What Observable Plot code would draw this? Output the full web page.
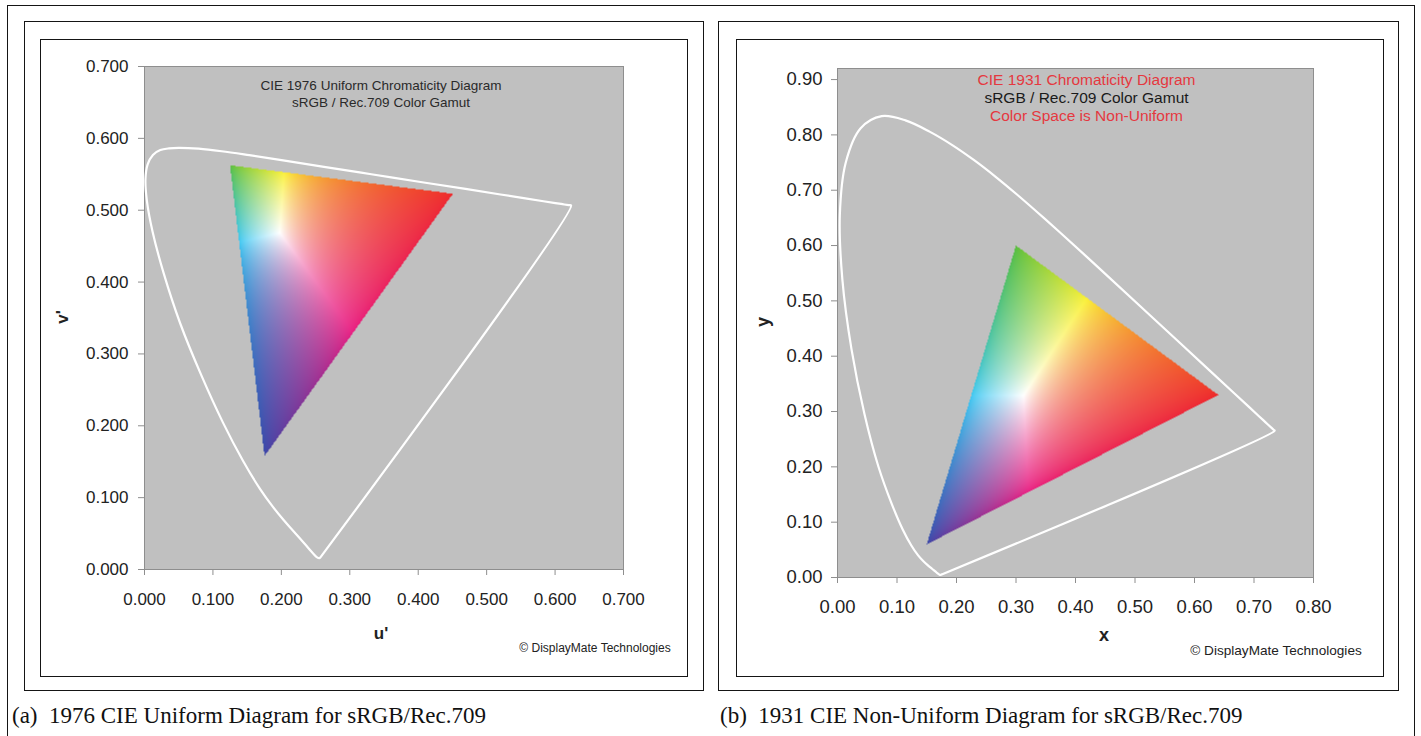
<!DOCTYPE html>
<html><head><meta charset="utf-8">
<script src="https://cdn.jsdelivr.net/npm/d3@7"></script>
<script src="https://cdn.jsdelivr.net/npm/@observablehq/plot@0.6"></script>
<style>
html,body{margin:0;padding:0;background:#fff;}
body{width:1421px;height:736px;overflow:hidden;position:relative;font-family:"Liberation Sans",Arial,sans-serif;color:#222;}
.line{position:absolute;border:1.6px solid #151515;box-sizing:border-box;}
.abs{position:absolute;white-space:nowrap;transform:translate(-50%,-50%);}
.cap{position:absolute;white-space:nowrap;font-family:"Liberation Serif","Times New Roman",serif;font-size:23px;color:#111;transform:translateY(-50%);}
.chart{position:absolute;top:39px;}
</style></head><body>
<div class="line" style="left:7px;top:5px;width:1408px;height:760px;"></div>
<div class="line" style="left:24px;top:21px;width:680px;height:670px;"></div>
<div class="line" style="left:40px;top:39px;width:648px;height:638px;"></div>
<div class="line" style="left:718px;top:21px;width:681px;height:670px;"></div>
<div class="line" style="left:736px;top:39px;width:648px;height:638px;"></div>
<div id="left" class="chart" style="left:40px;"></div>
<div id="right" class="chart" style="left:736px;"></div>
<div class="abs" style="left:63px;top:317px;font-weight:bold;font-size:17px;transform:translate(-50%,-50%) rotate(-90deg);">v'</div>
<div class="abs" style="left:381px;top:634px;font-weight:bold;font-size:17px;">u'</div>
<div class="abs" style="left:763px;top:322px;font-weight:bold;font-size:18px;transform:translate(-50%,-50%) rotate(-90deg);">y</div>
<div class="abs" style="left:1104px;top:635px;font-weight:bold;font-size:18px;">x</div>
<div class="abs" style="left:595px;top:648px;font-size:12px;">© DisplayMate Technologies</div>
<div class="abs" style="left:1276px;top:650px;font-size:13.6px;">© DisplayMate Technologies</div>
<div class="cap" style="left:12px;top:716px;">(a)&nbsp; 1976 CIE Uniform Diagram for sRGB/Rec.709</div>
<div class="cap" style="left:720px;top:716px;">(b)&nbsp; 1931 CIE Non-Uniform Diagram for sRGB/Rec.709</div>
<script>
// ---------- data ----------
// CIE 1931 spectral locus (x, y) read along the white boundary
const locusNm1931 = [380,400,420,430,440,445,450,455,460,465,470,475,480,485,490,495,500,505,510,515,520,525,530,535,540,545,550,555,560,570,580,590,600,610,620,630,640,660,680,700];
const locusX = [0.1741,0.1733,0.1714,0.1689,0.1644,0.1611,0.1566,0.1510,0.1440,0.1355,0.1241,0.1096,0.0913,0.0687,0.0454,0.0235,0.0082,0.0039,0.0139,0.0389,0.0743,0.1142,0.1547,0.1929,0.2296,0.2658,0.3016,0.3373,0.3731,0.4441,0.5125,0.5752,0.6270,0.6658,0.6915,0.7079,0.7190,0.7300,0.7334,0.7347];
const locusY = [0.0050,0.0048,0.0051,0.0069,0.0109,0.0138,0.0177,0.0227,0.0297,0.0399,0.0578,0.0868,0.1327,0.2007,0.2950,0.4127,0.5384,0.6548,0.7502,0.8120,0.8338,0.8262,0.8059,0.7816,0.7543,0.7243,0.6923,0.6589,0.6245,0.5547,0.4866,0.4242,0.3725,0.3340,0.3083,0.2920,0.2809,0.2700,0.2666,0.2653];
// CIE 1976 spectral locus (u', v')
const locusNm1976 = [380,400,420,430,440,445,450,455,460,465,470,475,480,485,490,495,500,505,510,515,520,525,530,540,550,560,570,580,590,600,610,620,630,640,650,660,680,700];
const locusU = [0.2568,0.2557,0.2522,0.2461,0.2347,0.2266,0.2161,0.2033,0.1877,0.1690,0.1441,0.1147,0.0828,0.0521,0.0282,0.0119,0.0035,0.0014,0.0046,0.0123,0.0231,0.0360,0.0501,0.0792,0.1127,0.1531,0.2026,0.2623,0.3315,0.4035,0.4692,0.5203,0.5565,0.5830,0.6005,0.6109,0.6199,0.6234];
const locusV = [0.0166,0.0159,0.0169,0.0226,0.0350,0.0437,0.0549,0.0688,0.0871,0.1119,0.1510,0.2044,0.2708,0.3427,0.4117,0.4698,0.5131,0.5432,0.5638,0.5770,0.5837,0.5861,0.5868,0.5856,0.5821,0.5766,0.5694,0.5604,0.5501,0.5393,0.5296,0.5219,0.5165,0.5125,0.5099,0.5084,0.5070,0.5065];
// sRGB / Rec.709 gamut corners
const primaries = ["Red","Green","Blue"];
const gamutX = [0.640,0.300,0.150];
const gamutY = [0.330,0.600,0.060];
const gamutU = [0.4507,0.1250,0.1754];
const gamutV = [0.5229,0.5625,0.1579];
// axis ticks
const ticksU = [0,0.1,0.2,0.3,0.4,0.5,0.6,0.7];
const ticksV = [0,0.1,0.2,0.3,0.4,0.5,0.6,0.7];
const ticksX = [0,0.1,0.2,0.3,0.4,0.5,0.6,0.7,0.8];
const ticksY = [0,0.1,0.2,0.3,0.4,0.5,0.6,0.7,0.8,0.9];
const titleLeft = ["CIE 1976 Uniform Chromaticity Diagram","sRGB / Rec.709 Color Gamut"];
const titleRight = ["CIE 1931 Chromaticity Diagram","sRGB / Rec.709 Color Gamut","Color Space is Non-Uniform"];
const titleRightColors = ["#e5383f","#1a1a1a","#e5383f"];
// printed look of the gamut: corners of the RGB cube
const cubeK = [0,0,0], cubeR = [238,40,42], cubeG = [84,188,58], cubeB = [56,70,168];
const cubeY = [250,240,50], cubeC = [56,198,242], cubeM = [232,28,128], cubeW = [255,255,255];

// ---------- colour rendering of a chromaticity ----------
const M = [[3.2406,-1.5372,-0.4986],[-0.9689,1.8758,0.0415],[0.0557,-0.2040,1.0570]];
function gam(c){return Math.pow(c,1/1.5);}
function lerp3(a,b,t){return [a[0]+(b[0]-a[0])*t,a[1]+(b[1]-a[1])*t,a[2]+(b[2]-a[2])*t];}
function cube(r,g,b){
  const x00=lerp3(cubeK,cubeR,r), x10=lerp3(cubeG,cubeY,r), x01=lerp3(cubeB,cubeM,r), x11=lerp3(cubeC,cubeW,r);
  const y0=lerp3(x00,x10,g), y1=lerp3(x01,x11,g);
  return lerp3(y0,y1,b);
}
function xyColor(x,y){
  const X=x/y, Y=1, Z=(1-x-y)/y;
  let r=Math.max(0,M[0][0]*X+M[0][1]*Y+M[0][2]*Z);
  let g=Math.max(0,M[1][0]*X+M[1][1]*Y+M[1][2]*Z);
  let b=Math.max(0,M[2][0]*X+M[2][1]*Y+M[2][2]*Z);
  const m=Math.max(r,g,b)||1;
  const c=cube(gam(r/m),gam(g/m),gam(b/m));
  return `rgb(${Math.round(c[0])},${Math.round(c[1])},${Math.round(c[2])})`;
}
function inTri(px,py,xs,ys){
  const [ax,bx,cx]=xs,[ay,by,cy]=ys;
  const d=(by-cy)*(ax-cx)+(cx-bx)*(ay-cy);
  const l1=((by-cy)*(px-cx)+(cx-bx)*(py-cy))/d;
  const l2=((cy-ay)*(px-cx)+(ax-cx)*(py-cy))/d;
  const l3=1-l1-l2;
  return l1>=0&&l2>=0&&l3>=0;
}
function uvToXy(u,v){const d=6*u-16*v+12;return [9*u/d,4*v/d];}

function makeChart({xDomain,yDomain,xTicks,yTicks,fmt,locA,locB,gamA,gamB,toXY,titles,titleColors,titleDy,titleDx,titleSize,margins,font,padX,padY}){
  const locus = locA.map((a,i)=>({a,b:locB[i]}));
  locus.push(locus[0]);
  const fill=(a,b)=>{
    if(!inTri(a,b,gamA,gamB)) return null;
    const [x,y]=toXY(a,b);
    return xyColor(x,y);
  };
  return Plot.plot({
    width:647, height:637,
    marginLeft:margins[0], marginRight:margins[1], marginTop:margins[2], marginBottom:margins[3],
    x:{domain:xDomain}, y:{domain:yDomain},
    color:{type:"identity"},
    style:{fontFamily:'"Liberation Sans",Arial,sans-serif',fontSize:font+"px",background:"transparent",color:"#222"},
    marks:[
      Plot.frame({fill:"#c0c0c0",stroke:"#8e8e8e"}),
      Plot.raster({x1:xDomain[0],x2:xDomain[1],y1:yDomain[0],y2:yDomain[1],fill,imageRendering:"auto"}),
      Plot.line(locus,{x:"a",y:"b",stroke:"white",strokeWidth:2.2,curve:"catmull-rom"}),
      ...titles.map((t,i)=>Plot.text([t],{frameAnchor:"top",text:d=>d,dy:titleDy[i],dx:titleDx,fill:titleColors[i],fontSize:titleSize})),
      Plot.axisX({ticks:xTicks,tickFormat:fmt,tickSize:6,tickPadding:padX,stroke:"#8e8e8e",fill:"#222",fontSize:font,label:null}),
      Plot.axisY({ticks:yTicks,tickFormat:fmt,tickSize:6,tickPadding:padY,stroke:"#8e8e8e",fill:"#222",fontSize:font,label:null})
    ]
  });
}

document.getElementById("left").append(makeChart({
  xDomain:[0,0.7], yDomain:[0,0.7], xTicks:ticksU, yTicks:ticksV, fmt:d3.format(".3f"),
  locA:locusU, locB:locusV, gamA:gamutU, gamB:gamutV, toXY:uvToXy,
  titles:titleLeft, titleColors:["#2a2a2a","#2a2a2a"], titleDy:[14,31], titleDx:-3, titleSize:13.5,
  margins:[104,64,27,107], font:17, padX:17, padY:10
}));
document.getElementById("right").append(makeChart({
  xDomain:[0,0.8], yDomain:[0,0.92], xTicks:ticksX, yTicks:ticksY, fmt:d3.format(".2f"),
  locA:locusX, locB:locusY, gamA:gamutX, gamB:gamutY, toXY:(a,b)=>[a,b],
  titles:titleRight, titleColors:titleRightColors, titleDy:[5,23,41], titleDx:11, titleSize:15.5,
  margins:[101,70,29,99], font:18.5, padX:16, padY:9
}));
</script>
</body></html>
